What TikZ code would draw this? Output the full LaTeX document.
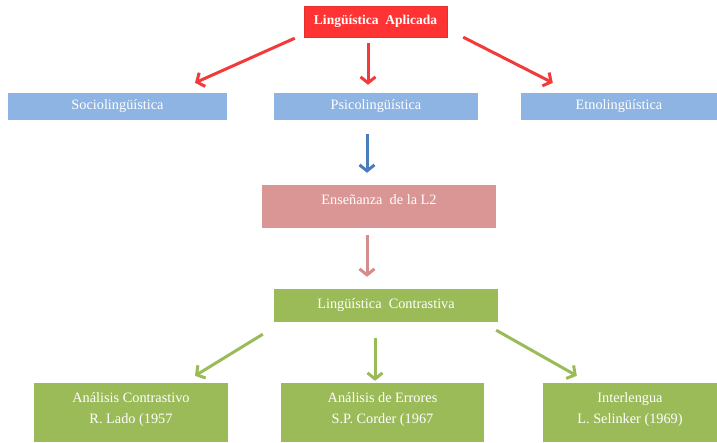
\documentclass[tikz,border=0pt]{standalone}
\usepackage{fontspec}
\setmainfont{Liberation Serif}
\usetikzlibrary{arrows.meta}

\definecolor{aplred}{HTML}{FF3333}
\definecolor{arrred}{HTML}{F23A3A}
\definecolor{psiblue}{HTML}{8EB4E3}
\definecolor{arrblue}{HTML}{4A7EBB}
\definecolor{enspink}{HTML}{D99694}
\definecolor{arrpink}{HTML}{D48C8C}
\definecolor{congreen}{HTML}{9BBB59}

\begin{document}
\begin{tikzpicture}[x=1pt, y=-1pt,
	box/.style={inner sep=0pt, text=white, align=center, font=\fontsize{14.3}{21}\selectfont},
	conn/.style={line width=3pt, -{Straight Barb[length=6pt, width=15pt]}}]
	\useasboundingbox (0,0) rectangle (717,442);

	% top level
	\node[box, fill=aplred, draw=aplred!90!black, line width=0.4pt, minimum width=143pt, minimum height=31pt, font=\fontsize{13.5}{21}\selectfont\bfseries] (apl) at (375.5,21.5) {Lingüística\ \ Aplicada};

	\node[box, fill=psiblue, minimum width=219pt, minimum height=27pt] (socio) at (117.5,106.5) {Sociolingüística};
	\node[box, fill=psiblue, minimum width=204pt, minimum height=27pt] (psico) at (376,106.5) {Psicolingüística};
	\node[box, fill=psiblue, minimum width=196pt, minimum height=27pt] (etno) at (619,106.5) {Etnolingüística};

	\draw[conn, arrred] ([xshift=-9pt, yshift=-1pt]apl.south west) -- ([xshift=77.5pt, yshift=10pt]socio.north);
	\draw[conn, arrred] ([xshift=-7.5pt, yshift=-6pt]apl.south) -- ([xshift=-8pt, yshift=8pt]psico.north);
	\draw[conn, arrred] ([xshift=16pt, yshift=0pt]apl.south east) -- ([xshift=32pt, yshift=10pt]etno.north west);

	% L2
	\node[box, fill=enspink, minimum width=234pt, minimum height=43pt, text depth=14pt] (ens) at (379,206.5) {Enseñanza\ \ de la L2};
	\draw[conn, arrblue] ([xshift=-9pt, yshift=-14pt]psico.south) -- ([xshift=-12pt, yshift=12pt]ens.north);

	\node[box, fill=congreen, minimum width=224pt, minimum height=33pt] (contr) at (386,305.5) {Lingüística\ \ Contrastiva};
	\draw[conn, arrpink] ([xshift=-12pt, yshift=-7pt]ens.south) -- ([xshift=-19pt, yshift=12pt]contr.north);

	% bottom level
	\node[box, fill=congreen, minimum width=194pt, minimum height=59pt, text depth=8pt] (lado) at (131,412.5) {Análisis Contrastivo\\R. Lado (1957};
	\node[box, fill=congreen, minimum width=203pt, minimum height=59pt, text depth=8pt] (corder) at (382.5,412.5) {Análisis de Errores\\S.P. Corder (1967};
	\node[box, fill=congreen, minimum width=174pt, minimum height=59pt, text depth=8pt] (selinker) at (630,412.5) {Interlengua\\L. Selinker (1969)};

	\draw[conn, congreen] ([xshift=-11pt, yshift=-12pt]contr.south west) -- ([xshift=64pt, yshift=7pt]lado.north);
	\draw[conn, congreen] ([xshift=-11pt, yshift=-16pt]contr.south) -- ([xshift=-7.5pt, yshift=2pt]corder.north);
	\draw[conn, congreen] ([xshift=-2pt, yshift=-8pt]contr.south east) -- ([xshift=34pt, yshift=7pt]selinker.north west);
\end{tikzpicture}
\end{document}
